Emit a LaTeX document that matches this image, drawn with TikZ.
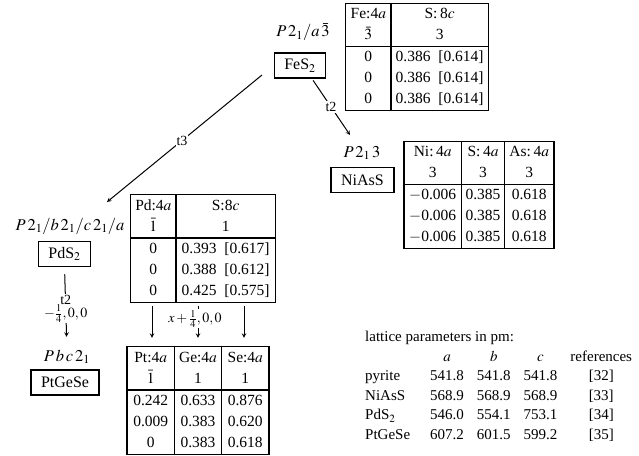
\documentclass[tikz,border=0pt]{standalone}
\usepackage{mathptmx}
\usepackage{fontspec}
\setmainfont{Liberation Serif}
\usepackage{array}
\usetikzlibrary{calc}
\setlength{\arrayrulewidth}{1.3pt}
\setlength{\tabcolsep}{3pt}
\begin{document}
\begin{tikzpicture}[x=1pt,y=-1pt,>=stealth,
		cbox/.style={draw,line width=1.5pt,inner xsep=10pt,inner ysep=4pt,minimum height=25pt,font=\fontsize{16}{19}\selectfont},
		sg/.style={inner sep=0pt,font=\fontsize{16.5}{19}\selectfont},
		tab/.style={inner sep=0pt,font=\fontsize{15.5}{21}\selectfont},
		lbl/.style={fill=white,inner sep=1pt,font=\fontsize{14}{15}\selectfont},
		arr/.style={->,line width=1pt}]
	\useasboundingbox (0,0) rectangle (639,455);
	\node[sg] (sgFe) at (303,32) {$P\,2_1/a\,\bar{3}$};
	\node[cbox] (FeS2) at (300,65.5) {FeS$_2$};
	\node[sg] (sgNi) at (362,153) {$P\,2_1\,3$};
	\node[cbox] (NiAsS) at (362.5,180) {NiAsS};
	\node[sg] (sgPd) at (70,226) {$P\,2_1/b\,2_1/c\,2_1/a$};
	\node[cbox] (PdS2) at (64.5,254) {PdS$_2$};
	\node[sg] (sgPt) at (67,357) {$P\,b\,c\,2_1$};
	\node[cbox] (PtGeSe) at (65,382.5) {PtGeSe};
	\node[tab] (tabFe) at (417,57) {\begin{tabular}{|w{c}{38pt}|w{c}{90pt}|}\hline
		Fe:4$a$ & S:\,8$c$\\
		$\bar{3}$ & 3\\\hline
		0 & 0.386\enskip[0.614]\\
		0 & 0.386\enskip[0.614]\\
		0 & 0.386\enskip[0.614]\\\hline
	\end{tabular}};
	\node[tab] (tabNi) at (479,195) {\begin{tabular}{|w{c}{50pt}|w{c}{36pt}|w{c}{42pt}|}\hline
		Ni:\,4$a$ & S:\,4$a$ & As:\,4$a$\\
		3 & 3 & 3\\\hline
		$-$0.006 & 0.385 & 0.618\\
		$-$0.006 & 0.385 & 0.618\\
		$-$0.006 & 0.385 & 0.618\\\hline
	\end{tabular}};
	\node[tab] (tabPd) at (203,248.5) {\begin{tabular}{|w{c}{38pt}|w{c}{92pt}|}\hline
		Pd:4$a$ & S:8$c$\\
		$\bar{1}$ & 1\\\hline
		0 & 0.393\enskip[0.617]\\
		0 & 0.388\enskip[0.612]\\
		0 & 0.425\enskip[0.575]\\\hline
	\end{tabular}};
	\node[tab] (tabPt) at (198,400.5) {\begin{tabular}{|w{c}{40pt}|w{c}{40pt}|w{c}{40pt}|}\hline
		Pt:4$a$ & Ge:4$a$ & Se:4$a$\\
		$\bar{1}$ & 1 & 1\\\hline
		0.242 & 0.633 & 0.876\\
		0.009 & 0.383 & 0.620\\
		0 & 0.383 & 0.618\\\hline
	\end{tabular}};
	\node[anchor=north west,inner sep=0pt,font=\fontsize{15}{19.5}\selectfont] (latt) at (365,328) {\begin{tabular}{@{}l@{\hspace{20pt}}c@{\hspace{13pt}}c@{\hspace{13pt}}c@{\hspace{13pt}}c@{}}
		\multicolumn{5}{@{}l@{}}{lattice parameters in pm:}\\
		& $a$ & $b$ & $c$ & references\\
		pyrite & 541.8 & 541.8 & 541.8 & [32]\\
		NiAsS & 568.9 & 568.9 & 568.9 & [33]\\
		PdS$_2$ & 546.0 & 554.1 & 753.1 & [34]\\
		PtGeSe & 607.2 & 601.5 & 599.2 & [35]
	\end{tabular}};
	\draw[arr,shorten <=15pt] (FeS2.west) -- ([shift={(37,-24)}]sgPd.center) node[lbl,pos=0.55] {t3};
	\draw[arr,shorten <=2pt] ([xshift=12pt]FeS2.south) -- ([shift={(-12,-18)}]sgNi.center) node[lbl,midway] {t2};
	\draw[arr,shorten <=7pt,shorten >=13pt] (PdS2.south) -- (sgPt.north);
	\node[lbl,align=center] (t2Pd) at ($(PdS2.south)!0.5!(sgPt.north)$) {t2\\[-2pt]$-\frac{1}{4},0,0$};
	\foreach \dx [count=\i] in {-46,0,46}{
		\coordinate (col\i) at ($(tabPt.north)+(\dx,0)$);
		\draw[arr,shorten <=3pt,shorten >=8pt] (col\i |- tabPd.south) -- (col\i);
	}
	\node[lbl] (xshift) at ($(col2)+(-3,-27)$) {$x+\frac{1}{4},0,0$};
\end{tikzpicture}
\end{document}
